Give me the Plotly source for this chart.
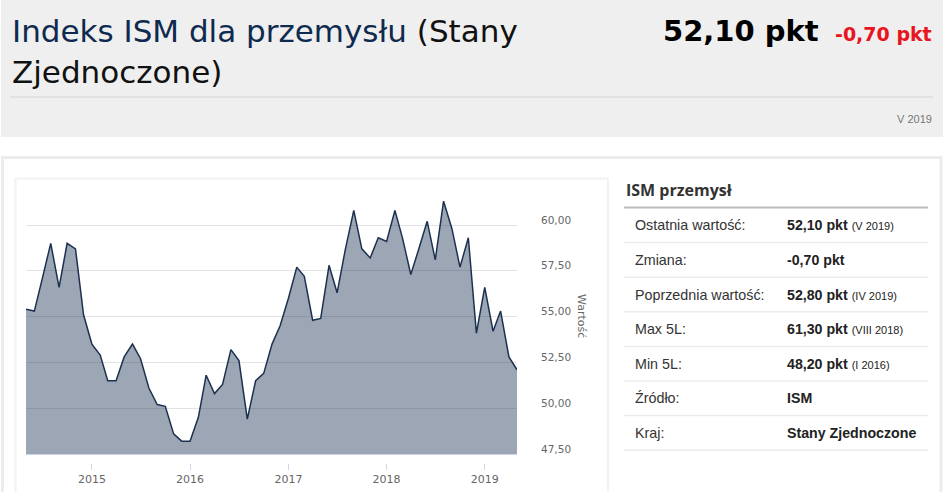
"""ISM manufacturing index (USA) - card with area chart and summary table."""

import pandas as pd
import plotly.graph_objects as go

W, H = 945, 492

# monthly ISM values, V 2014 .. V 2019
ism_values = [
    55.4, 55.3, 57.1, 59.0, 56.6, 59.0, 58.7, 55.1,
    53.5, 52.9, 51.5, 51.5, 52.8, 53.5, 52.7, 51.1, 50.2, 50.1, 48.6, 48.2,
    48.2, 49.5, 51.8, 50.8, 51.3, 53.2, 52.6, 49.4, 51.5, 51.9, 53.5, 54.5,
    56.0, 57.7, 57.2, 54.8, 54.9, 57.8, 56.3, 58.7, 60.8, 58.7, 58.2, 59.3,
    59.1, 60.8, 59.3, 57.3, 58.7, 60.2, 58.1, 61.3, 59.8, 57.7, 59.3, 54.1,
    56.6, 54.2, 55.3, 52.8, 52.1,
]
months = pd.date_range("2014-05-01", periods=len(ism_values), freq="MS")

y_ticks = [47.5, 50.0, 52.5, 55.0, 57.5, 60.0]
y_tick_labels = ["47,50", "50,00", "52,50", "55,00", "57,50", "60,00"]
x_ticks = ["2015-01-01", "2016-01-01", "2017-01-01", "2018-01-01", "2019-01-01"]
x_tick_labels = ["2015", "2016", "2017", "2018", "2019"]

table_labels = ["Ostatnia wartość:", "Zmiana:", "Poprzednia wartość:", "Max 5L:",
                "Min 5L:", "Źródło:", "Kraj:"]
table_values = ["52,10 pkt", "-0,70 pkt", "52,80 pkt", "61,30 pkt", "48,20 pkt",
                "ISM", "Stany Zjednoczone"]
table_notes = ["(V 2019)", "", "(IV 2019)", "(VIII 2018)", "(I 2016)", "", ""]


def px(x):
    return x / W


def py(y):
    return 1 - y / H


def note(text, x, y, anchor="left", **font):
    return dict(text=text, x=px(x), y=py(y), xref="paper", yref="paper",
                xanchor=anchor, yanchor="middle", showarrow=False, font=font)


def rule(x0, x1, y, color, width):
    return dict(type="line", xref="paper", yref="paper", x0=px(x0), x1=px(x1),
                y0=py(y), y1=py(y), line=dict(color=color, width=width))


fig = go.Figure()

fig.add_trace(go.Scatter(
    x=months, y=ism_values, mode="lines", fill="tozeroy",
    fillcolor="rgba(30,52,86,0.44)",
    line=dict(color="#1c3150", width=1.5),
    hoverinfo="skip", showlegend=False,
))
# invisible copy that carries the (offset) tick axis
fig.add_trace(go.Scatter(
    x=months, y=ism_values, mode="lines", xaxis="x2", opacity=0,
    hoverinfo="skip", showlegend=False,
))

shapes = [
    # grey header band
    dict(type="rect", xref="paper", yref="paper", x0=px(1), x1=px(943),
         y0=py(0), y1=py(137), fillcolor="#efefef", line=dict(width=0), layer="below"),
    rule(10, 933, 97, "#dcdcdc", 1.5),
    # outer panel
    dict(type="rect", xref="paper", yref="paper", x0=px(2.5), x1=px(941),
         y0=py(157.5), y1=py(500), line=dict(color="#ececec", width=3), layer="below"),
    # chart container
    dict(type="rect", xref="paper", yref="paper", x0=px(15.5), x1=px(608),
         y0=py(178.5), y1=py(500), line=dict(color="#f2f2f2", width=2), layer="below"),
    # table header rule
    rule(624, 928, 207.5, "#bcbcbc", 2),
]

annotations = [
    note("<span style='color:#0e2a4e'>Indeks ISM dla przemysłu</span> (Stany", 10, 31,
         family="DejaVu Sans", size=31, color="#111111"),
    note("Zjednoczone)", 10, 72, family="DejaVu Sans", size=31, color="#111111"),
    note("<b>52,10 pkt</b>", 821, 31, "right", family="DejaVu Sans", size=29, color="#000000"),
    note("<b>-0,70 pkt</b>", 934, 34, "right", family="DejaVu Sans", size=19, color="#e8141e"),
    note("V 2019", 934, 119, "right", family="Liberation Sans", size=11, color="#777777"),
    note("<b>ISM przemysł</b>", 624, 190, family="Open Sans", size=16, color="#333333"),
]
axis_title = note("Wartość", 582, 316, "center", family="DejaVu Sans", size=11, color="#666666")
axis_title["textangle"] = 90
annotations.append(axis_title)

row_top = 208
row_h = 34.6
for i, (lab, val, sub) in enumerate(zip(table_labels, table_values, table_notes)):
    yc = row_top + row_h * (i + 0.5)
    annotations.append(note(lab, 633, yc, family="Liberation Sans", size=14.3, color="#333333"))
    txt = f"<b>{val}</b>"
    if sub:
        txt += f" <span style='font-size:11px'>{sub}</span>"
    annotations.append(note(txt, 785, yc, family="Liberation Sans", size=14.2, color="#222222"))
    shapes.append(rule(624, 928, row_top + row_h * (i + 1), "#ececec", 1.5))

x_range = [months[0], months[-1]]

fig.update_layout(
    width=W, height=H,
    margin=dict(l=0, r=0, t=0, b=0),
    paper_bgcolor="white", plot_bgcolor="rgba(0,0,0,0)",
    shapes=shapes, annotations=annotations,
    xaxis=dict(
        domain=[px(26), px(517)], range=x_range,
        showgrid=False, zeroline=False, showticklabels=False, ticks="",
        showline=True, linecolor="#ccd6eb", linewidth=1,
    ),
    xaxis2=dict(
        overlaying="x", anchor="free", position=py(462.5),
        domain=[px(26), px(517)], range=x_range,
        tickvals=x_ticks, ticktext=x_tick_labels,
        ticks="outside", ticklen=6, tickcolor="#ccd6eb", tickwidth=1,
        showline=False, showgrid=False, zeroline=False,
        tickfont=dict(family="DejaVu Sans", size=11, color="#666666"),
    ),
    yaxis=dict(
        domain=[py(454), py(454 - 14.5 * 18.32)], range=[47.5, 62.0],
        side="right", tickvals=y_ticks, ticktext=y_tick_labels,
        showgrid=True, gridcolor="#e3e3e3", gridwidth=1, zeroline=False,
        ticks="", ticklabelstandoff=23, ticklabelshift=-5,
        tickfont=dict(family="DejaVu Sans", size=10.5, color="#666666"),
    ),
)

# drop the default page margin so the figure sits at the window's corner
fig.write_html("out.html", config={"displayModeBar": False},
               post_script="document.body.style.margin='0';")
